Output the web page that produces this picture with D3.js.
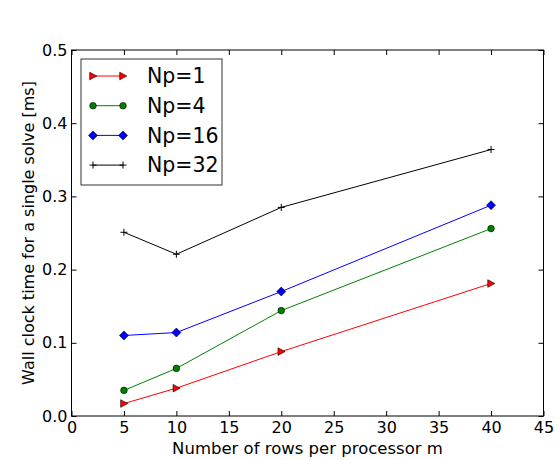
<!DOCTYPE html>
<html>
<head>
<meta charset="utf-8">
<script src="https://cdn.jsdelivr.net/npm/d3@7"></script>
<style>
  body { margin: 0; background: #fff; }
  text { font-family: "DejaVu Sans", sans-serif; fill: #000; }
</style>
</head>
<body>
<svg width="557" height="460"></svg>
<script>
// data
var rows = [5, 10, 20, 40];
var np1 = [0.017, 0.038, 0.088, 0.181];
var np4 = [0.035, 0.065, 0.144, 0.256];
var np16 = [0.110, 0.114, 0.170, 0.288];
var np32 = [0.251, 0.221, 0.285, 0.364];
var xTicks = [0, 5, 10, 15, 20, 25, 30, 35, 40, 45];
var yTicks = [0.0, 0.1, 0.2, 0.3, 0.4, 0.5];

var series = [
  { name: "Np=1", values: np1, color: "#ff0000", marker: "tri" },
  { name: "Np=4", values: np4, color: "#008000", marker: "circle" },
  { name: "Np=16", values: np16, color: "#0000ff", marker: "diamond" },
  { name: "Np=32", values: np32, color: "#000000", marker: "plus" }
];

var svg = d3.select("svg");
var plotL = 71.5, plotR = 543.5, plotT = 50, plotB = 416;

var x = d3.scaleLinear().domain([0, 45]).range([plotL, plotR]);
var y = d3.scaleLinear().domain([0, 0.5]).range([plotB, plotT]);

// frame
svg.append("rect")
  .attr("x", plotL).attr("y", plotT)
  .attr("width", plotR - plotL).attr("height", plotB - plotT)
  .attr("fill", "none").attr("stroke", "#000").attr("stroke-width", 1);

// axes, ticks pointing inward
var xAxis = svg.append("g").attr("transform", "translate(0," + plotB + ")")
  .call(d3.axisBottom(x).tickValues(xTicks).tickSizeInner(-5).tickSizeOuter(0).tickPadding(5.5)
    .tickFormat(d3.format("d")));
var xTop = svg.append("g").attr("transform", "translate(0," + plotT + ")")
  .call(d3.axisTop(x).tickValues(xTicks).tickSizeInner(-5).tickSizeOuter(0).tickFormat(""));
var yAxis = svg.append("g").attr("transform", "translate(" + plotL + ",0)")
  .call(d3.axisLeft(y).tickValues(yTicks).tickSizeInner(-5).tickSizeOuter(0).tickPadding(4)
    .tickFormat(d3.format(".1f")));
var yRight = svg.append("g").attr("transform", "translate(" + plotR + ",0)")
  .call(d3.axisRight(y).tickValues(yTicks).tickSizeInner(-5).tickSizeOuter(0).tickFormat(""));

[xAxis, xTop, yAxis, yRight].forEach(function(g) {
  g.select(".domain").remove();
  g.selectAll("line").attr("stroke", "#000");
  g.selectAll("text").style("font-family", "DejaVu Sans").style("font-size", "16px").attr("fill", "#000");
});

// axis labels
svg.append("text")
  .attr("x", (plotL + plotR) / 2).attr("y", 454)
  .attr("text-anchor", "middle")
  .style("font-size", "16.5px")
  .text("Number of rows per processor m");

svg.append("text")
  .attr("transform", "translate(34," + (plotT + plotB) / 2 + ") rotate(-90)")
  .attr("text-anchor", "middle")
  .style("font-size", "16px")
  .text("Wall clock time for a single solve [ms]");

function drawMarker(g, type, color) {
  if (type == "tri") {
    g.append("path").attr("d", "M-3.3,-3.8L3.8,0L-3.3,3.8Z")
      .attr("fill", color).attr("stroke", "#000").attr("stroke-width", 0.6);
  } else if (type == "circle") {
    g.append("circle").attr("r", 3.3)
      .attr("fill", color).attr("stroke", "#000").attr("stroke-width", 0.6);
  } else if (type == "diamond") {
    g.append("path").attr("d", "M0,-4.5L4.5,0L0,4.5L-4.5,0Z")
      .attr("fill", color).attr("stroke", "#000").attr("stroke-width", 0.6);
  } else {
    g.append("path").attr("d", "M-3.5,0H3.5M0,-3.5V3.5")
      .attr("fill", "none").attr("stroke", color).attr("stroke-width", 1);
  }
}

var line = d3.line()
  .x(function(d) { return x(d[0]); })
  .y(function(d) { return y(d[1]); });

series.forEach(function(s) {
  var pts = rows.map(function(r, i) { return [r, s.values[i]]; });
  svg.append("path")
    .datum(pts)
    .attr("d", line)
    .attr("fill", "none")
    .attr("stroke", s.color)
    .attr("stroke-width", 1);
  pts.forEach(function(p) {
    var g = svg.append("g").attr("transform", "translate(" + x(p[0]) + "," + y(p[1]) + ")");
    drawMarker(g, s.marker, s.color);
  });
});

// legend
var legend = svg.append("g");
legend.append("rect")
  .attr("x", 81).attr("y", 59)
  .attr("width", 141).attr("height", 126)
  .attr("fill", "#fff").attr("stroke", "#333").attr("stroke-width", 1);

series.forEach(function(s, i) {
  var ly = 76 + i * 29.7;
  legend.append("line")
    .attr("x1", 93).attr("x2", 123)
    .attr("y1", ly).attr("y2", ly)
    .attr("stroke", s.color).attr("stroke-width", 1);
  [93, 123].forEach(function(mx) {
    var g = legend.append("g").attr("transform", "translate(" + mx + "," + ly + ")");
    drawMarker(g, s.marker, s.color);
  });
  legend.append("text")
    .attr("x", 147).attr("y", ly)
    .attr("dy", "0.36em")
    .style("font-size", "20.5px")
    .text(s.name);
});
</script>
</body>
</html>
